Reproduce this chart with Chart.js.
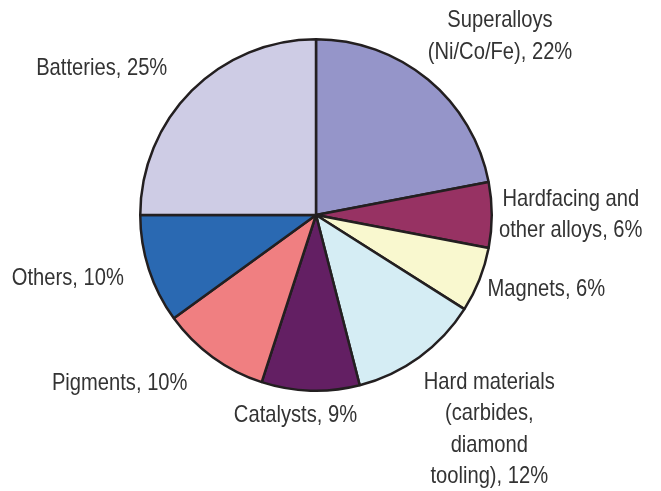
<!DOCTYPE html>
<html>
<head>
<meta charset="utf-8">
<script src="https://cdn.jsdelivr.net/npm/chart.js@4.4.1/dist/chart.umd.min.js"></script>
<style>
    html, body { margin: 0; padding: 0; background: #ffffff; }
    #wrap { width: 661px; height: 491px; }
</style>
</head>
<body>
<div id="wrap"><canvas id="pieChart" width="661" height="491"></canvas></div>
<script>
// share of end use, percent, clockwise from 12 o'clock
const categories = [
    [`Superalloys`, `(Ni/Co/Fe), 22%`],
    [`Hardfacing and`, `other alloys, 6%`],
    [`Magnets, 6%`],
    [`Hard materials`, `(carbides,`, `diamond`, `tooling), 12%`],
    [`Catalysts, 9%`],
    [`Pigments, 10%`],
    [`Others, 10%`],
    [`Batteries, 25%`]
];
const shares = [22, 6, 6, 12, 9, 10, 10, 25];
const sliceColors = [`#9595c9`, `#973263`, `#f9f8cf`, `#d5edf4`, `#631f63`, `#f07f81`, `#2a69b2`, `#cecce5`];

// where each label block sits, relative to the middle of its arc edge
const labelOffsets = [
    [72, -43], [79, 0], [67, 10], [70, 72],
    [-15, 25], [-93, 26], [-81, 9], [-90, -22]
];

// no narrow font installed, so squeeze Liberation Sans sideways
const textSqueeze = 0.84;

const outsideLabels = {
    id: `outsideLabels`,
    afterDatasetsDraw(chart) {
        const ctx = chart.ctx;
        const arcs = chart.getDatasetMeta(0).data;
        const lineHeight = 31.5;
        arcs.forEach((arc, i) => {
            const mid = (arc.startAngle + arc.endAngle) / 2;
            const cx = arc.x + Math.cos(mid) * arc.outerRadius + labelOffsets[i][0];
            const cy = arc.y + Math.sin(mid) * arc.outerRadius + labelOffsets[i][1];
            const lines = categories[i];
            const top = cy - (lines.length - 1) * lineHeight / 2;
            ctx.save();
            ctx.translate(cx, top);
            ctx.scale(textSqueeze, 1);
            ctx.font = `24px "Liberation Sans", Arial, sans-serif`;
            ctx.fillStyle = `#333333`;
            ctx.textAlign = `center`;
            ctx.textBaseline = `middle`;
            lines.forEach((line, j) => ctx.fillText(line, 0, j * lineHeight));
            ctx.restore();
        });
    }
};

new Chart(document.getElementById(`pieChart`), {
    type: `pie`,
    data: {
        labels: categories.map(x => x.join(` `)),
        datasets: [{
            data: shares,
            backgroundColor: sliceColors,
            borderColor: `#231f20`,
            borderWidth: 2.5
        }]
    },
    options: {
        responsive: false,
        animation: false,
        layout: { padding: { left: 139, right: 168, top: 38, bottom: 99 } },
        plugins: {
            legend: { display: false },
            tooltip: { enabled: false }
        }
    },
    plugins: [outsideLabels]
});
</script>
</body>
</html>
